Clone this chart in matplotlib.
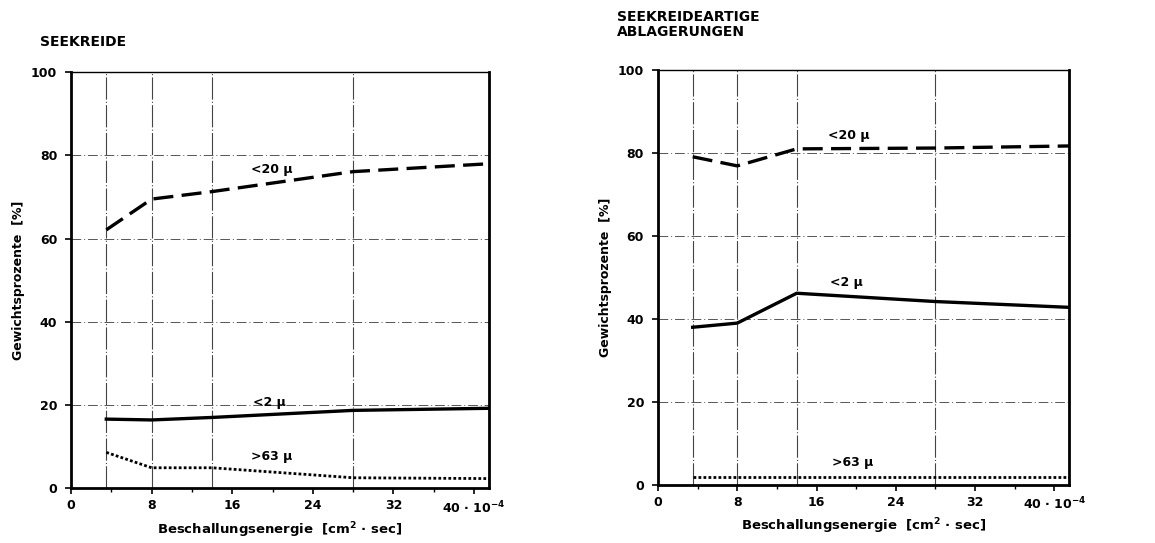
import matplotlib.pyplot as plt
from matplotlib.ticker import MultipleLocator, FixedLocator, FixedFormatter

# Beschallungsenergie (10^-4 cm^2 sec)
energie = [3.5, 8, 14, 28, 41.5]

# SEEKREIDE
sk_lt20 = [62.1, 69.5, 71.3, 76.1, 78.0]
sk_lt2 = [16.6, 16.4, 17.0, 18.7, 19.2]
sk_gt63 = [8.6, 4.9, 4.9, 2.5, 2.3]

# SEEKREIDEARTIGE ABLAGERUNGEN
sa_lt20 = [79.1, 76.9, 81.0, 81.2, 81.7]
sa_lt2 = [38.0, 39.0, 46.2, 44.2, 42.8]
sa_gt63 = [1.9, 1.9, 1.9, 1.9, 1.9]

x_ticks = [0, 8, 16, 24, 32, 40]
x_ticklabels = ['0', '8', '16', '24', '32', '40 · 10$^{-4}$']
y_ticks = [0, 20, 40, 60, 80, 100]

plt.rcParams['font.family'] = ['DejaVu Sans']
plt.rcParams['font.weight'] = 'bold'

fig = plt.figure(figsize=(11.55, 5.43), dpi=100)
ax1 = fig.add_axes([0.0615, 0.101, 0.362, 0.766])
ax2 = fig.add_axes([0.5697, 0.107, 0.356, 0.764])


def draw_panel(ax, lt20, lt2, gt63, labels):
    ax.set_xlim(0, energie[-1])
    ax.set_ylim(0, 100)

    # grid: horizontal dash-dot, vertical at measured energies
    for y in y_ticks[1:-1]:
        ax.axhline(y, color='#555555', lw=0.7, ls=(0, (10, 3, 1, 3)), zorder=1)
    for x in energie[:-1]:
        ax.axvline(x, color='#444444', lw=0.8, ls=(0, (20, 2, 1, 2)), zorder=1)

    ax.plot(energie, lt20, color='black', lw=2.4, ls=(0, (6, 2.5)), zorder=3)
    ax.plot(energie, lt2, color='black', lw=2.4, zorder=3)
    ax.plot(energie, gt63, color='black', lw=2.0, ls=(0, (1, 0.8)), zorder=3)

    for (tx, ty, txt) in labels:
        ax.text(tx, ty, txt, ha='center', va='center', fontsize=9,
                fontweight='bold')

    ax.xaxis.set_major_locator(FixedLocator(x_ticks))
    ax.xaxis.set_major_formatter(FixedFormatter(x_ticklabels))
    ax.xaxis.set_minor_locator(MultipleLocator(4))
    ax.yaxis.set_major_locator(FixedLocator(y_ticks))
    ax.tick_params(axis='both', which='major', direction='out', length=4,
                   width=1.2, labelsize=9, pad=6)
    ax.tick_params(axis='x', which='major', pad=4)
    ax.tick_params(axis='x', which='minor', direction='out', length=3, width=1)
    for lab in ax.get_xticklabels() + ax.get_yticklabels():
        lab.set_fontweight('bold')

    for side in ['left', 'bottom', 'right']:
        ax.spines[side].set_linewidth(2.0)
    ax.spines['top'].set_linewidth(1.0)

    ax.set_ylabel('Gewichtsprozente  [%]', fontsize=9, fontweight='bold',
                  labelpad=4)
    ax.set_xlabel('Beschallungsenergie  [cm$^2$ · sec]', fontsize=9.5,
                  fontweight='bold', labelpad=3)


draw_panel(ax1, sk_lt20, sk_lt2, sk_gt63,
           [(19.9, 76.5, '<20 µ'), (19.7, 20.7, '<2 µ'), (19.9, 7.7, '>63 µ')])
draw_panel(ax2, sa_lt20, sa_lt2, sa_gt63,
           [(19.3, 84.2, '<20 µ'), (19.0, 48.7, '<2 µ'), (19.6, 5.5, '>63 µ')])

fig.text(0.035, 0.922, 'SEEKREIDE', fontsize=10, fontweight='bold', va='center')
fig.text(0.534, 0.955, 'SEEKREIDEARTIGE\nABLAGERUNGEN', fontsize=10,
         fontweight='bold', va='center', linespacing=1.05)

fig.savefig('out.png', dpi=100)
